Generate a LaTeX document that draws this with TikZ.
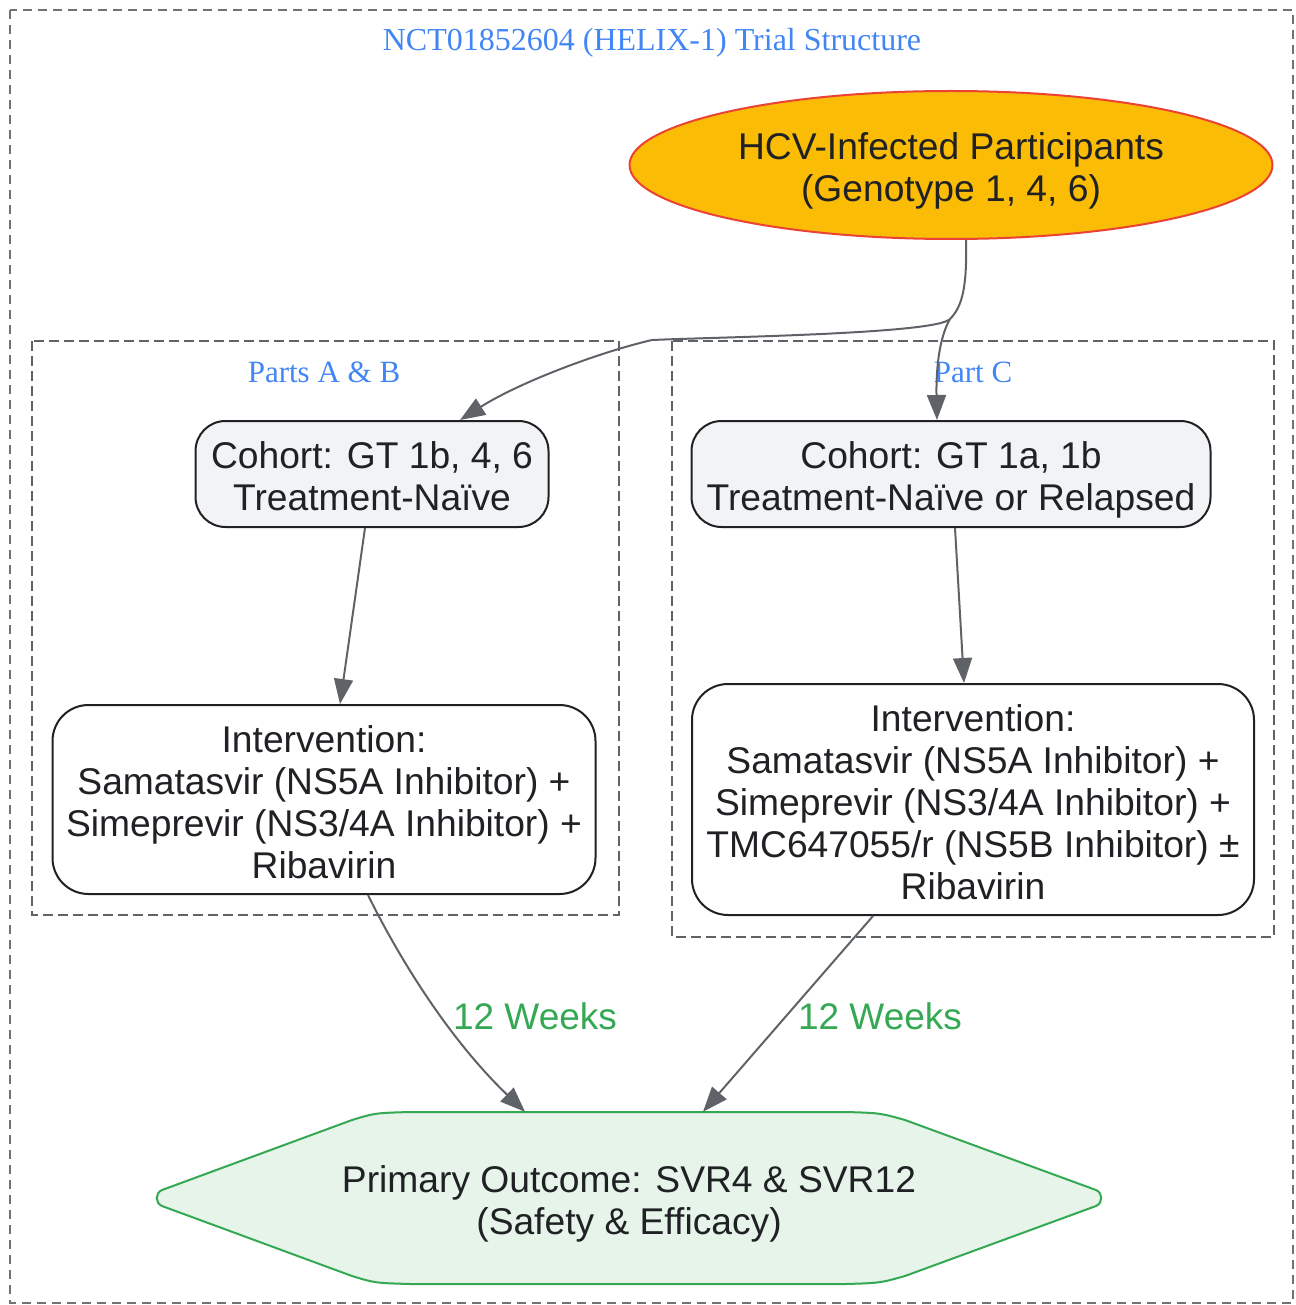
\documentclass[tikz,border=0pt]{standalone}
\usepackage{fontspec}
\setmainfont{Liberation Sans}
\newfontfamily\serifttl{Liberation Serif}
\usetikzlibrary{shapes.geometric,arrows.meta,positioning}
\definecolor{edgegray}{HTML}{5F6368}
\definecolor{txtdark}{HTML}{202124}
\definecolor{gblue}{HTML}{4285F4}
\definecolor{gyellow}{HTML}{FBBC05}
\definecolor{gred}{HTML}{EA4335}
\definecolor{ggreen}{HTML}{34A853}
\definecolor{lgreen}{HTML}{E6F4EA}
\definecolor{lgray}{HTML}{F1F3F4}
\tikzset{
  clusterbox/.style={draw=edgegray, line width=2pt, dash pattern=on 10pt off 5pt},
  framebox/.style={draw=edgegray!90, line width=2pt, dash pattern=on 9pt off 6pt},
  clabel/.style={text=gblue, font=\serifttl\fontsize{31}{36}\selectfont},
  tlabel/.style={text=gblue, font=\serifttl\fontsize{32}{36}\selectfont},
  nodetext/.style={text=txtdark, font=\fontsize{37.2}{42}\selectfont, align=center, inner sep=0pt},
  cohortbox/.style={draw=txtdark, line width=2pt, fill=lgray, rounded corners=30pt, inner sep=0pt},
  intbox/.style={draw=txtdark, line width=2pt, fill=white, rounded corners=36pt, inner sep=0pt},
  flow/.style={draw=edgegray, line width=2pt, -{Triangle[length=25pt,width=19pt]}},
  elabel/.style={text=ggreen, font=\fontsize{37}{42}\selectfont}
}
\begin{document}
\begin{tikzpicture}[x=1pt,y=-1pt]
\useasboundingbox (0,0) rectangle (1295,1305);
\draw[framebox] (10,10) rectangle (1293,1303);
\node[tlabel] (title) at (652,43) {NCT01852604 (HELIX-1) Trial Structure};
\draw[clusterbox] (32,341) rectangle (619,915);
\node[clabel] (labAB) at (324,372) {Parts A \& B};
\draw[clusterbox] (672,341) rectangle (1274,937);
\node[clabel] (labC) at (973,372) {Part C};

\node[ellipse, draw=gred, line width=2pt, fill=gyellow, minimum width=643pt, minimum height=148pt, inner sep=0pt] (start) at (951,165) {};
\node[nodetext] (startT) at (951,171) {HCV-Infected Participants\\(Genotype 1, 4, 6)};

\node[cohortbox, minimum width=353pt, minimum height=106pt] (coh1) at (372,474) {};
\node[nodetext] (coh1T) at (372,476) {Cohort: GT 1b, 4, 6\\Treatment-Naïve};
\node[cohortbox, minimum width=519pt, minimum height=106pt] (coh2) at (951,474) {};
\node[nodetext] (coh2T) at (951,480) {Cohort: GT 1a, 1b\\Treatment-Naïve or Relapsed};

\node[intbox, minimum width=543pt, minimum height=189pt] (int1) at (324,799.5) {};
\node[nodetext] (int1T) at (324,802.5) {Intervention:\\Samatasvir (NS5A Inhibitor) +\\Simeprevir (NS3/4A Inhibitor) +\\Ribavirin};
\node[intbox, minimum width=562pt, minimum height=231pt] (int2) at (973,799.5) {};
\node[nodetext] (int2T) at (973,802.5) {Intervention:\\Samatasvir (NS5A Inhibitor) +\\Simeprevir (NS3/4A Inhibitor) +\\TMC647055/r (NS5B Inhibitor) ±\\Ribavirin};

\draw[ggreen, line width=2pt, fill=lgreen]
  (162,1190) -- (352,1120) .. controls (375,1113) .. (410,1112) -- (846,1112)
  .. controls (880,1113) .. (905,1120) -- (1096,1190)
  .. controls (1103,1193) and (1103,1203) .. (1096,1206)
  -- (905,1276) .. controls (880,1283) .. (846,1284) -- (410,1284)
  .. controls (375,1283) .. (352,1276) -- (162,1206)
  .. controls (155,1203) and (155,1193) .. cycle;
\node[minimum width=420pt, minimum height=172pt, inner sep=0pt] (outcome) at (629,1198) {};
\node[nodetext] (outcomeT) at (629,1204) {Primary Outcome: SVR4 \& SVR12\\(Safety \& Efficacy)};

\coordinate (split) at (950,319);
\draw[flow] ([xshift=15pt]start.south) .. controls (967,285) and (963,306) .. (split)
  .. controls (936,334) and (720,337) .. (652,340)
  .. controls (600,352) and (520,382) .. ([xshift=88pt]coh1.north);
\draw[flow] (split) .. controls (939,338) and (936,370) .. ([xshift=-14pt]coh2.north);

\draw[flow] ([xshift=-7pt]coh1.south) -- ([xshift=16pt]int1.north);
\draw[flow] ([xshift=4pt]coh2.south) -- ([xshift=-9pt]int2.north);

\draw[flow] ([xshift=44pt]int1.south) .. controls (400,960) and (450,1040) .. ([xshift=-104pt]outcome.north);
\node[elabel] (w1) at (535,1016) {12 Weeks};
\draw[flow] ([xshift=-100pt]int2.south) -- ([xshift=74pt]outcome.north);
\node[elabel] (w2) at (880,1016) {12 Weeks};
\end{tikzpicture}
\end{document}
